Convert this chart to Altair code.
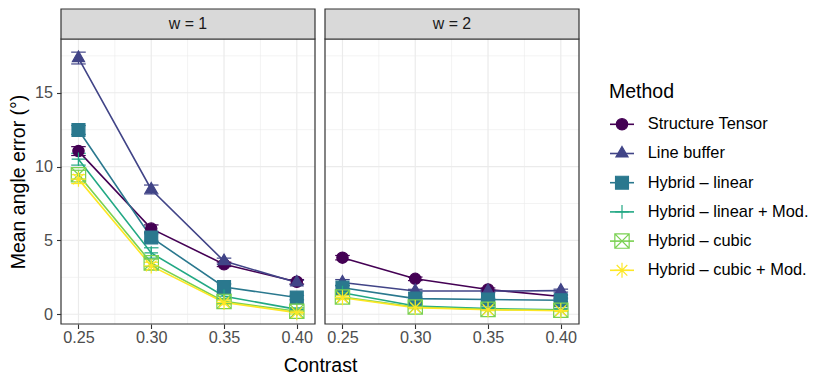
import altair as alt
import pandas as pd

FONT = "Liberation Sans"

contrast = [0.25, 0.30, 0.35, 0.40]
methods = ["Structure Tensor", "Line buffer", "Hybrid – linear",
           "Hybrid – linear + Mod.", "Hybrid – cubic", "Hybrid – cubic + Mod."]
panels = ["w = 1", "w = 2"]
legend_title = "Method"
colors = ["#440154", "#414487", "#2A788E", "#22A884", "#7AD151", "#FDE725"]
fills = ["#440154", "#414487", "#2A788E", "transparent", "transparent", "transparent"]
shapes = ["circle", "M0,-1.155L1,0.577L-1,0.577Z", "square",
          "M-1,0L1,0M0,-1L0,1",
          "M-1,-1L1,-1L1,1L-1,1ZM-1,-1L1,1M-1,1L1,-1",
          "M-1,0L1,0M0,-1L0,1M-0.707,-0.707L0.707,0.707M-0.707,0.707L0.707,-0.707"]
sizes = [128, 225, 100, 256, 100, 256]

# mean angle error, w = 1
st_w1 = [11.05, 5.8, 3.38, 2.2]
lb_w1 = [17.35, 8.45, 3.6, 2.15]
hl_w1 = [12.48, 5.2, 1.85, 1.13]
hlm_w1 = [10.5, 4.15, 1.22, 0.33]
hc_w1 = [9.45, 3.48, 0.87, 0.2]
hcm_w1 = [9.15, 3.27, 0.8, 0.11]
# mean angle error, w = 2
st_w2 = [3.83, 2.4, 1.68, 1.2]
lb_w2 = [2.15, 1.57, 1.57, 1.6]
hl_w2 = [1.8, 1.06, 1.0, 0.95]
hlm_w2 = [1.46, 0.56, 0.38, 0.3]
hc_w2 = [1.17, 0.49, 0.33, 0.27]
hcm_w2 = [1.12, 0.45, 0.3, 0.24]

# error bar half-widths, w = 1
st_w1_se = [0.3, 0.25, 0.15, 0.15]
lb_w1_se = [0.4, 0.3, 0.2, 0.15]
hl_w1_se = [0.3, 0.25, 0.2, 0.15]
hlm_w1_se = [0.4, 0.35, 0.15, 0.1]
hc_w1_se = [0.3, 0.25, 0.15, 0.1]
hcm_w1_se = [0.3, 0.25, 0.15, 0.1]
# error bar half-widths, w = 2
st_w2_se = [0.15, 0.12, 0.1, 0.1]
lb_w2_se = [0.2, 0.12, 0.1, 0.1]
hl_w2_se = [0.15, 0.1, 0.08, 0.08]
hlm_w2_se = [0.15, 0.1, 0.08, 0.08]
hc_w2_se = [0.12, 0.08, 0.06, 0.06]
hcm_w2_se = [0.12, 0.08, 0.06, 0.06]

y_ticks = [0, 5, 10, 15]
y_minor = [2.5, 7.5, 12.5, 17.5]
x_minor = [0.275, 0.325, 0.375]

means = {"w = 1": [st_w1, lb_w1, hl_w1, hlm_w1, hc_w1, hcm_w1],
         "w = 2": [st_w2, lb_w2, hl_w2, hlm_w2, hc_w2, hcm_w2]}
ses = {"w = 1": [st_w1_se, lb_w1_se, hl_w1_se, hlm_w1_se, hc_w1_se, hcm_w1_se],
       "w = 2": [st_w2_se, lb_w2_se, hl_w2_se, hlm_w2_se, hc_w2_se, hcm_w2_se]}

rows = []
for p in panels:
    for mi, m in enumerate(methods):
        for ci, c in enumerate(contrast):
            mu = means[p][mi][ci]
            se = ses[p][mi][ci]
            rows.append({"Panel": p, "Method": m, "Contrast": c,
                         "Mean": mu, "lo": mu - se, "hi": mu + se,
                         "xl": c - 0.005, "xr": c + 0.005})
df = pd.DataFrame(rows)

W, H, SH = 254, 285, 30
xs = alt.Scale(domain=[0.238, 0.4125], nice=False, zero=False)
ys = alt.Scale(domain=[-0.66, 18.64], nice=False, zero=False)

color_enc = alt.Color("Method:N", scale=alt.Scale(domain=methods, range=colors), legend=None)
stroke_enc = alt.Stroke("Method:N", scale=alt.Scale(domain=methods, range=colors), legend=None)
fill_enc = alt.Fill("Method:N", scale=alt.Scale(domain=methods, range=fills), legend=None)
shape_enc = alt.Shape("Method:N", scale=alt.Scale(domain=methods, range=shapes), legend=None)
size_enc = alt.Size("Method:N", scale=alt.Scale(domain=methods, range=sizes), legend=None)


def make_axes(first):
    xa = alt.Axis(values=contrast, format=".2f", grid=False, domain=False,
                  tickSize=4.5, tickColor="#333333", tickWidth=1.1,
                  labelFontSize=16.2, labelColor="#4D4D4D", labelPadding=1, labelFont=FONT,
                  title="Contrast" if first else "", titleX=259, titleFontSize=19.5,
                  titleFont=FONT, titleColor="#000000", titleFontWeight="normal",
                  titlePadding=11)
    if first:
        ya = alt.Axis(values=y_ticks, title="Mean angle error (°)", grid=False, domain=False,
                      tickSize=4.5, tickColor="#333333", tickWidth=1.1,
                      labelFontSize=16.2, labelColor="#4D4D4D", labelPadding=4,
                      labelFont=FONT, titleFontSize=19.5, titleFont=FONT,
                      titleColor="#000000", titleFontWeight="normal", titlePadding=6)
    else:
        ya = None
    return xa, ya


def panel_chart(p, first):
    xa, ya = make_axes(first)
    d = df[df.Panel == p]
    X = alt.X("Contrast:Q", scale=xs, axis=xa)
    Y = alt.Y("Mean:Q", scale=ys, axis=ya)
    gy_min = alt.Chart(pd.DataFrame({"Mean": y_minor})).mark_rule(
        color="#EBEBEB", strokeWidth=0.6).encode(y=Y)
    gx_min = alt.Chart(pd.DataFrame({"Contrast": x_minor})).mark_rule(
        color="#EBEBEB", strokeWidth=0.6).encode(x=X)
    gy = alt.Chart(pd.DataFrame({"Mean": y_ticks})).mark_rule(
        color="#EBEBEB", strokeWidth=1.2).encode(y=Y)
    gx = alt.Chart(pd.DataFrame({"Contrast": contrast})).mark_rule(
        color="#EBEBEB", strokeWidth=1.2).encode(x=X)
    base = alt.Chart(d)
    lines = base.mark_line(strokeWidth=1.6).encode(x=X, y=Y, color=color_enc)
    eb = base.mark_rule(strokeWidth=1.2).encode(
        x=X, y=alt.Y("lo:Q", scale=ys, axis=ya), y2="hi:Q", color=color_enc)
    cap_lo = base.mark_rule(strokeWidth=1.2).encode(
        x=alt.X("xl:Q", scale=xs, axis=xa), x2="xr:Q", y=alt.Y("lo:Q", scale=ys, axis=ya),
        color=color_enc)
    cap_hi = base.mark_rule(strokeWidth=1.2).encode(
        x=alt.X("xl:Q", scale=xs, axis=xa), x2="xr:Q", y=alt.Y("hi:Q", scale=ys, axis=ya),
        color=color_enc)
    pts = base.mark_point(filled=False, opacity=1, strokeWidth=1.2, fillOpacity=1).encode(
        x=X, y=Y, shape=shape_enc, stroke=stroke_enc, fill=fill_enc, size=size_enc)
    sdf = pd.DataFrame({"Panel": [p]})
    border = alt.Chart(sdf).mark_rect(fillOpacity=0, stroke="#333333", strokeWidth=1.2).encode(
        fill=alt.value("white"))
    # facet strip above the panel
    strip_bg = alt.Chart(sdf).mark_rect(stroke="#333333", strokeWidth=1.2).encode(
        fill=alt.value("#D9D9D9"), x=alt.value(0), x2=alt.value(W),
        y=alt.value(-SH), y2=alt.value(0))
    strip_txt = alt.Chart(sdf).mark_text(
        font=FONT, fontSize=15.9, color="#1A1A1A", baseline="middle").encode(
        text="Panel:N", x=alt.value(W / 2), y=alt.value(-SH / 2))
    return alt.layer(gy_min, gx_min, gy, gx, lines, eb, cap_lo, cap_hi, pts, border,
                     strip_bg, strip_txt).properties(width=W, height=H)


# manual legend (keys drawn through the same Method scales)
LH = H
leg_df = pd.DataFrame({"Method": methods, "idx": list(range(len(methods)))})
ly = alt.Y("idx:Q", scale=alt.Scale(domain=[-2.9212, 6.8391], reverse=True, nice=False,
                                    zero=False), axis=None)
leg_base = alt.Chart(leg_df)
leg_line = leg_base.mark_rule(strokeWidth=1.6).encode(
    y=ly, x=alt.value(21), x2=alt.value(45), color=color_enc)
leg_pts = leg_base.mark_point(filled=False, opacity=1, strokeWidth=1.2, fillOpacity=1).encode(
    y=ly, x=alt.value(33), shape=shape_enc, stroke=stroke_enc, fill=fill_enc, size=size_enc)
leg_txt = leg_base.mark_text(align="left", baseline="middle", fontSize=16.4, font=FONT,
                             color="#000000").encode(y=ly, x=alt.value(58.7), text="Method:N")
leg_title = alt.Chart(pd.DataFrame({"t": [legend_title]})).mark_text(
    align="left", baseline="alphabetic", fontSize=19.5, font=FONT, color="#000000").encode(
    text="t:N", x=alt.value(20), y=alt.value(58.7))
legend = alt.layer(leg_line, leg_pts, leg_txt, leg_title).properties(width=226, height=LH)

chart = alt.hconcat(panel_chart(panels[0], True), panel_chart(panels[1], False), legend,
                    spacing=10, bounds="flush").properties(
    padding=0, background="white"
).configure_view(strokeOpacity=0)

chart.save("out.html", embed_options={"renderer": "svg", "actions": False})
